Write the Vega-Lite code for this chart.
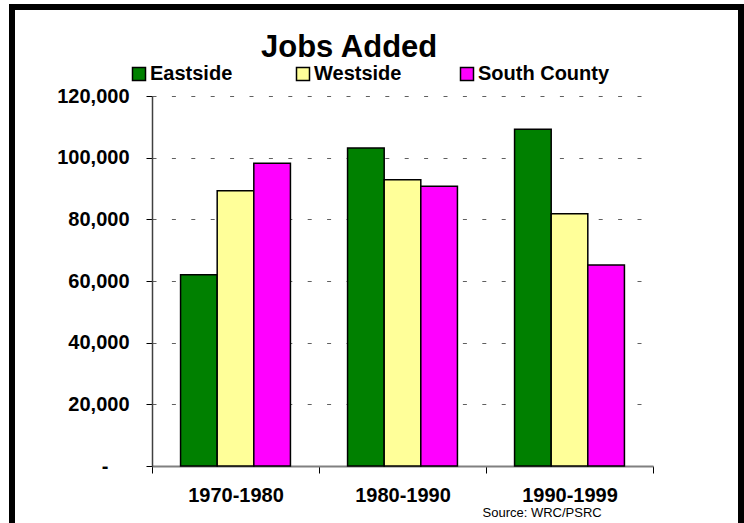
{
  "$schema": "https://vega.github.io/schema/vega-lite/v6.json",
  "width": 729,
  "height": 540,
  "padding": {"left": 12, "top": 7, "right": 3, "bottom": 0},
  "autosize": {"type": "none"},
  "background": "white",
  "title": {
    "text": "Jobs Added",
    "font": "Liberation Sans",
    "fontSize": 31,
    "fontWeight": "bold",
    "color": "black",
    "anchor": "start",
    "frame": "group",
    "baseline": "alphabetic",
    "offset": -81,
    "dx": 249
  },
  "data": {
    "values": [
      {"period": "1970-1980", "region": "Eastside", "jobs": 62000},
      {"period": "1970-1980", "region": "Westside", "jobs": 89300},
      {"period": "1970-1980", "region": "South County", "jobs": 98200},
      {"period": "1980-1990", "region": "Eastside", "jobs": 103100},
      {"period": "1980-1990", "region": "Westside", "jobs": 92800},
      {"period": "1980-1990", "region": "South County", "jobs": 90700},
      {"period": "1990-1999", "region": "Eastside", "jobs": 109200},
      {"period": "1990-1999", "region": "Westside", "jobs": 81800},
      {"period": "1990-1999", "region": "South County", "jobs": 65200}
    ]
  },
  "mark": {"type": "bar", "stroke": "black", "strokeWidth": 1.5},
  "encoding": {
    "x": {
      "field": "period",
      "type": "nominal",
      "sort": null,
      "scale": {"range": [140, 641], "paddingInner": 0, "paddingOuter": 0},
      "axis": {
        "orient": "bottom",
        "offset": -81,
        "tickBand": "extent",
        "labelAngle": 0,
        "tickSize": 7,
        "tickColor": "black",
        "domainColor": "#808080",
        "domainWidth": 2,
        "labelPadding": 12.5,
        "labelFont": "Liberation Sans",
        "labelFontSize": 20,
        "labelFontWeight": "bold",
        "labelColor": "black",
        "grid": false,
        "title": "Source: WRC/PSRC",
        "titleX": 470,
        "titleY": 40,
        "titleAlign": "left",
        "titleAnchor": "start",
        "titleBaseline": "top",
        "titleFont": "Liberation Sans",
        "titleFontSize": 13,
        "titleFontWeight": "normal",
        "titleColor": "black"
      }
    },
    "xOffset": {
      "field": "region",
      "type": "nominal",
      "sort": ["Eastside", "Westside", "South County"],
      "scale": {"paddingInner": 0, "paddingOuter": 0.78}
    },
    "y": {
      "field": "jobs",
      "type": "quantitative",
      "scale": {"domain": [0, 120000], "range": [459, 89], "nice": false, "zero": true},
      "axis": {
        "orient": "left",
        "offset": -140,
        "values": [0, 20000, 40000, 60000, 80000, 100000, 120000],
        "labelExpr": "datum.value == 0 ? '-' : format(datum.value, ',')",
        "grid": true,
        "gridColor": "#606060",
        "gridDash": [4, 15.4],
        "gridWidth": 1,
        "tickSize": 6,
        "tickColor": "black",
        "domainColor": "#404040",
        "domainWidth": 1.5,
        "labelPadding": {"condition": {"test": "datum.value == 0", "value": 38}, "value": 17},
        "labelFont": "Liberation Sans",
        "labelFontSize": 20,
        "labelFontWeight": "bold",
        "labelColor": "black",
        "title": null
      }
    },
    "color": {
      "field": "region",
      "type": "nominal",
      "scale": {
        "domain": ["Eastside", "Westside", "South County"],
        "range": ["#008000", "#FFFF99", "#FF00FF"]
      },
      "legend": {
        "orient": "none",
        "legendX": 117,
        "legendY": 57,
        "direction": "horizontal",
        "columns": 3,
        "gridAlign": "all",
        "columnPadding": 11,
        "padding": 0,
        "title": null,
        "symbolType": "square",
        "symbolSize": 169,
        "symbolStrokeColor": "black",
        "symbolStrokeWidth": 1.5,
        "symbolOpacity": 1,
        "labelFont": "Liberation Sans",
        "labelFontSize": 20,
        "labelFontWeight": "bold",
        "labelColor": "black",
        "labelOffset": 1
      }
    }
  },
  "config": {
    "view": {"stroke": "black", "strokeWidth": 6, "fill": "white"}
  }
}
